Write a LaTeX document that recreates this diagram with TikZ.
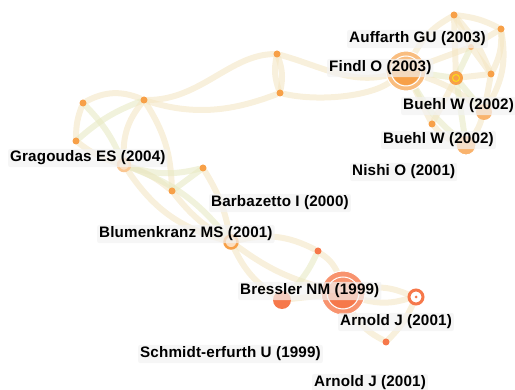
\documentclass[tikz,border=0pt]{standalone}
\usepackage{fontspec}
\setmainfont{Liberation Sans}
\usepackage{tikz}
\usetikzlibrary{backgrounds,positioning}
\definecolor{linkcream}{RGB}{244,230,196}
\definecolor{linkolive}{RGB}{232,234,196}
\definecolor{citeorange}{RGB}{247,160,72}
\definecolor{citered}{RGB}{246,120,74}
\definecolor{labelgrey}{RGB}{242,242,242}

\begin{document}
\begin{tikzpicture}[x=1pt, y=-1pt,
  link/.style={draw=linkcream, line width=6pt, opacity=0.6, line cap=round},
  olivelink/.style={link, draw=linkolive},
  dot/.style={circle, fill=citeorange, inner sep=0pt, minimum size=7pt},
  reddot/.style={dot, fill=citered},
  hub/.style={circle, inner sep=0pt, fill=citeorange!70, draw=white, line width=1pt},
  ringdot/.style={circle, inner sep=0pt, draw=citeorange, line width=2.5pt, fill=citeorange!35},
  lbl/.style={anchor=west, fill=labelgrey, fill opacity=0.7, text opacity=1,
              rounded corners=2pt, inner sep=2pt,
              font=\fontsize{15.2}{17}\selectfont\bfseries\addfontfeature{LetterSpace=1}}
]
\useasboundingbox (0,0) rectangle (515,390);

% left branch
\node[dot] (a1) at (83,103) {};
\node[dot] (a2) at (144,100) {};
\node[dot] (a3) at (76,141) {};
\node[ringdot, draw=citeorange!60, minimum size=12pt] (grag) at (124,165) {};
\node[dot] (b1) at (203,168) {};
\node[dot] (b2) at (172,191) {};
\node[ringdot, minimum size=13pt] (blum) at (231,242) {};
\node[dot] (c1) at (277,54) {};
\node[dot] (c2) at (280,93) {};

% upper right cluster
\node[hub, minimum size=40pt] (findl) at (406,71) {};
\fill[citeorange] ([xshift=-14pt]findl.center) arc[start angle=180, end angle=360, radius=14pt];
\draw[white, line width=1pt] (findl.center) circle[radius=15pt];
\node[dot] (d1) at (454,15) {};
\node[dot] (d2) at (501,29) {};
\node[dot, fill=citeorange!80, minimum size=6pt] (d3) at (471,47) {};
\node[dot, minimum size=14pt] (d4) at (456,78) {};
\draw[yellow!70!citeorange, line width=1pt] (d4.center) circle[radius=3.5pt];
\node[dot] (d5) at (491,74) {};
\node[dot, fill=citeorange!80, minimum size=16pt] (buehla) at (484,112) {};
\node[dot] (d6) at (432,124) {};
\node[hub, fill=citeorange!80, minimum size=20pt] (buehlb) at (466,145) {};

% lower cluster
\node[reddot] (e1) at (318,251) {};
\node[reddot, minimum size=18pt] (bresa) at (282,300) {};
\node[hub, fill=citered!80, minimum size=44pt] (bressler) at (343,293) {};
\fill[citered] ([xshift=-15pt]bressler.center) arc[start angle=180, end angle=360, radius=15pt];
\draw[white, line width=1pt] (bressler.center) circle[radius=16pt];
\node[circle, inner sep=0pt, fill=white, draw=citered, line width=3pt, minimum size=14pt] (f1) at (416,297) {};
\fill[citered] (f1.center) circle[radius=1.5pt];
\node[reddot] (f2) at (386,342) {};

\begin{scope}[on background layer]
\draw[link] (a1) to[bend left=25] (a2);
\draw[link] (a1) to[bend right=10] (a3);
\draw[olivelink] (a1) to[bend left=10] (grag);
\draw[olivelink] (a2) to[bend right=10] (a3);
\draw[link] (a2) to[bend right=20] (grag);
\draw[link] (a2) to[bend left=15] (b2);
\draw[link] (a2) .. controls (200,100) and (230,55) .. (c1);
\draw[link] (a2) .. controls (200,118) and (240,108) .. (c2);
\draw[link] (c1) to[bend left=15] (c2);
\draw[link] (c1) to[bend right=15] (c2);
\draw[link] (c1) .. controls (320,66) and (350,84) .. (findl);
\draw[link] (c2) .. controls (320,102) and (370,96) .. (findl);
\draw[link] (a3) to[bend right=10] (grag);
\draw[olivelink] (grag) to[bend right=15] (b1);
\draw[link] (grag) to[bend left=10] (b2);
\draw[link] (grag) to[bend right=20] (blum);
\draw[olivelink] (grag) to[bend left=15] (blum);
\draw[olivelink] (b1) to (b2);
\draw[link] (b1) to[bend left=10] (blum);
\draw[link] (b2) to[bend right=10] (blum);
\draw[link] (blum) to[bend left=20] (e1);
\draw[link] (blum) to[bend right=15] (bresa);
\draw[link] (blum) to[bend right=10] (bressler);
\draw[olivelink] (e1) to[bend left=10] (bresa);
\draw[link] (e1) to[bend left=15] (bressler);
\draw[link] (bresa) to (bressler);
\draw[link] (bressler) to[bend left=15] (f1);
\draw[link] (bressler) to[bend right=15] (f1);
\draw[link] (bressler) to[bend right=15] (f2);
\draw[link] (f1) to[bend left=10] (f2);
\draw[link] (findl) to[bend left=15] (d1);
\draw[link] (findl) to (d3);
\draw[olivelink] (findl) to (d4);
\draw[link] (findl) to[bend left=10] (buehla);
\draw[link] (findl) to (d6);
\draw[olivelink] (findl) to[bend right=10] (buehlb);
\draw[link] (d1) to[bend left=10] (d2);
\draw[link] (d1) to (d3);
\draw[link] (d1) to (d4);
\draw[link] (d1) to[bend left=10] (d5);
\draw[link] (d2) to[bend left=15] (d5);
\draw[link] (d2) to (d3);
\draw[link] (d2) to[bend left=20] (buehla);
\draw[olivelink] (d3) to (d4);
\draw[link] (d3) to (d5);
\draw[link] (d4) to (d5);
\draw[olivelink] (d4) to (buehla);
\draw[olivelink] (d4) to (buehlb);
\draw[link] (d4) to (d6);
\draw[link] (d5) to (buehla);
\draw[link] (buehla) to[bend left=10] (buehlb);
\draw[link] (d6) to[bend right=15] (buehlb);
\end{scope}

% labels
\node[lbl] at (347,39) {Auffarth GU (2003)};
\node[lbl] at (327,68) {Findl O (2003)};
\node[lbl] at (401,106) {Buehl W (2002)};
\node[lbl] at (381,140) {Buehl W (2002)};
\node[lbl] at (350,172) {Nishi O (2001)};
\node[lbl] at (8,158) {Gragoudas ES (2004)};
\node[lbl] at (209,203) {Barbazetto I (2000)};
\node[lbl] at (97,234) {Blumenkranz MS (2001)};
\node[lbl] at (238,291) {Bressler NM (1999)};
\node[lbl] at (338,322) {Arnold J (2001)};
\node[lbl] at (138,354) {Schmidt-erfurth U (1999)};
\node[lbl] at (312,383) {Arnold J (2001)};
\end{tikzpicture}
\end{document}
